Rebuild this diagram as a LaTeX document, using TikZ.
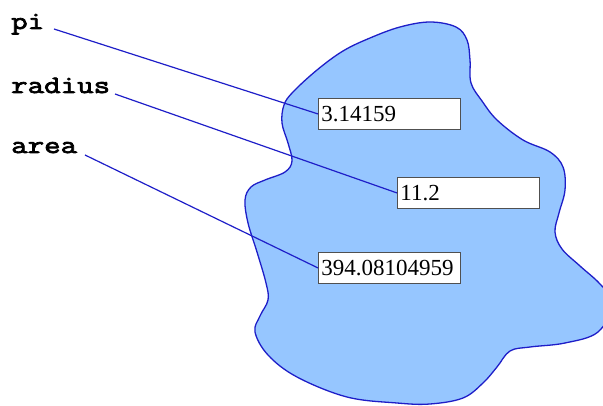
\documentclass[tikz,border=0pt]{standalone}
\usepackage{fontspec}
\setmainfont{Liberation Serif}
\newfontfamily\labfont[FakeStretch=1.28,FakeBold=3]{Latin Modern Mono}
\definecolor{blobfill}{RGB}{150,198,255}
\definecolor{inkblue}{RGB}{30,30,200}
\definecolor{boxline}{RGB}{80,80,80}
\tikzset{
  varlabel/.style={anchor=base west, inner sep=0pt, font=\labfont\fontsize{25}{27}\selectfont},
  valbox/.style={draw=boxline, line width=0.9pt, fill=white, anchor=north west,
    minimum width=142pt, minimum height=31pt, text width=136pt, inner xsep=3pt, inner ysep=0pt,
    align=left, font=\fontsize{23}{25}\selectfont},
  link/.style={draw=inkblue, line width=1.2pt},
}
\begin{document}
\begin{tikzpicture}[x=1pt,y=-1pt]
\useasboundingbox (0,0) rectangle (603,406);
\begin{scope}
\clip (0,0) rectangle (603,406);
\draw[fill=blobfill, draw=inkblue, line width=1.3pt] plot[smooth cycle, tension=0.6] coordinates {
(430,22) (456,27) (467,40) (470,60) (471,83) (482,101) (497,120) (523,140) (550,152) (563,167) (565,190) (559,213) (555,232) (562,249) (580,266) (600,284) (613,303)
(598,332) (565,343) (530,347) (510,351) (497,367) (483,383) (463,398) (430,404) (397,403) (347,397) (297,377) (268,355) (255,332) (260,316) (268,300) (266,283) (257,252) (248,223) (245,200) (251,187) (265,180) (285,172) (292,161) (288,143) (282,123) (284,105) (293,92) (317,70) (343,51) (370,38) (400,27)};
\end{scope}

\node[varlabel] (pi) at (11,29) {pi};
\node[varlabel] (radius) at (11,93) {radius};
\node[varlabel] (area) at (11,153) {area};

\coordinate (pis) at (54,29);
\coordinate (rads) at (115,94);
\coordinate (areas) at (85,155);

\node[valbox] (v1) at (318,98) {3.14159};
\node[valbox] (v2) at (397,177) {11.2};
\node[valbox] (v3) at (318,252) {394.08104959};

\draw[link] (pis) -- (v1.west);
\draw[link] (rads) -- (v2.west);
\draw[link] (areas) -- (v3.west);
\end{tikzpicture}
\end{document}
